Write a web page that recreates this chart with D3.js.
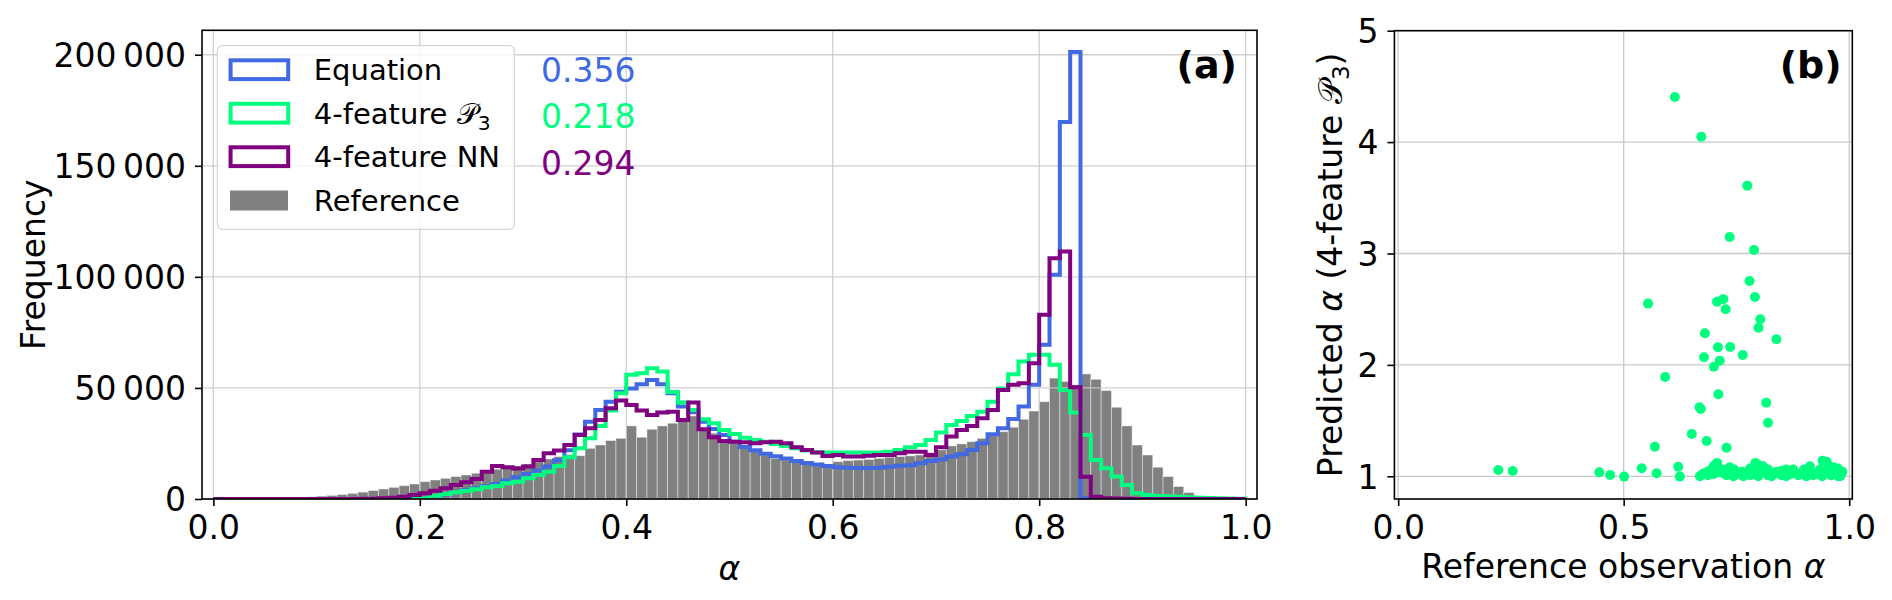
<!DOCTYPE html>
<html>
<head>
<meta charset="utf-8">
<script src="https://cdn.jsdelivr.net/npm/d3@7"></script>
<style>
  html, body { margin: 0; padding: 0; background: #fff; }
  svg text { font-family: "DejaVu Sans", sans-serif; }
</style>
</head>
<body>
<svg id="chart" width="1892" height="600"></svg>
<script>
// ---------------- DATA ----------------
// Histogram counts per bin of width 0.01 on alpha in [0, 1] (100 bins)
const referenceCounts = [
  50, 80, 120, 180, 250, 330, 450, 600, 800, 1000,
  1300, 1600, 2000, 2500, 3100, 3800, 4500, 5250, 6000, 6750,
  7800, 8550, 9300, 10100, 10800, 11600, 12300, 13400, 14300, 14900,
  15800, 16800, 18000, 19100, 20000, 19500, 22800, 24300, 26300, 27300,
  32900, 27800, 31400, 32900, 34100, 35100, 37400, 31800, 29600, 26900,
  25100, 23300, 21600, 19800, 18300, 17600, 16800, 16100, 15500, 15800,
  16800, 17300, 17500, 17800, 18300, 18800, 19100, 19400, 19800, 20900,
  22100, 23900, 24800, 25800, 27300, 29100, 30300, 32300, 35900, 39600,
  43800, 54400, 52900, 51400, 56300, 53900, 48800, 41300, 32900, 24300,
  19800, 14300, 10100, 5600, 2900, 1050, 300, 100, 50, 20
];
const equationCounts = [
  0, 0, 0, 0, 0, 0, 0, 0, 0, 0,
  0, 0, 0, 0, 0, 0, 0, 50, 100, 300,
  500, 1200, 2000, 3000, 3900, 4800, 5700, 6800, 8300, 9800,
  11300, 12800, 14600, 17500, 22000, 29000, 34800, 40100, 43800, 48300,
  49800, 51700, 53600, 51700, 47600, 41600, 39000, 34800, 31500, 28800,
  25800, 23400, 21900, 20400, 19200, 18200, 17100, 16200, 15500, 14800,
  14300, 14100, 14000, 14000, 14100, 14500, 15000, 15200, 16100, 17100,
  17800, 19100, 20100, 22100, 25100, 29100, 31800, 36000, 41600, 51400,
  69400, 100900, 169700, 201200, 300, 0, 0, 0, 0, 0,
  0, 0, 0, 0, 0, 0, 0, 0, 0, 0
];
const p3Counts = [
  0, 0, 0, 0, 0, 0, 0, 0, 0, 0,
  0, 0, 0, 0, 0, 0, 0, 0, 0, 0,
  300, 1500, 2250, 3000, 3600, 4350, 5250, 5850, 7050, 7800,
  9300, 10800, 12300, 14900, 18800, 22800, 27300, 32900, 39800, 47600,
  55900, 56600, 58900, 57400, 48200, 43400, 40100, 35900, 34100, 31100,
  29300, 27600, 26600, 25800, 24800, 23900, 22800, 21800, 21000, 20900,
  20900, 20900, 20900, 20900, 20900, 21300, 22100, 23300, 24300, 26600,
  29900, 33300, 35100, 37400, 39300, 43800, 49800, 56200, 61900, 64900,
  64900, 60400, 49100, 38900, 28800, 17600, 13800, 10100, 6300, 2550,
  1800, 1350, 1200, 1000, 800, 600, 400, 300, 200, 100
];
const nnCounts = [
  0, 0, 0, 0, 0, 0, 0, 0, 0, 0,
  0, 0, 0, 0, 100, 150, 300, 600, 1000, 1800,
  2550, 3750, 4800, 6300, 7500, 9000, 12300, 14900, 14300, 13700,
  14600, 17600, 20600, 21800, 24300, 28800, 31800, 35600, 40800, 44300,
  42300, 39800, 37800, 38900, 39300, 35600, 43400, 31400, 27800, 26100,
  25800, 25500, 25100, 25500, 25800, 25100, 23300, 22100, 20900, 19400,
  19800, 19100, 19100, 19500, 19800, 19800, 20600, 21300, 21300, 19800,
  23300, 28100, 31100, 32900, 36300, 40100, 49100, 51400, 52100, 61100,
  82900, 108400, 111400, 50300, 10000, 1000, 300, 200, 100, 50,
  0, 0, 0, 0, 0, 0, 0, 0, 0, 0
];
const seriesNames = ["Equation", "4-feature \u{1D4AB}", "4-feature NN", "Reference"];
const seriesScores = ["0.356", "0.218", "0.294"];
const xTicksA = [0, 0.2, 0.4, 0.6, 0.8, 1.0];
const yTicksA = [0, 50000, 100000, 150000, 200000];

// Panel (b): reference observation alpha vs predicted alpha (4-feature P3)
const scatterX = [
  0.6135, 0.672, 0.774, 0.735, 0.789, 0.779, 0.554, 0.707, 0.721, 0.791,
  0.726, 0.803, 0.799, 0.8386, 0.680, 0.709, 0.736, 0.764, 0.678, 0.713,
  0.700, 0.592, 0.710, 0.671, 0.816, 0.820, 0.651, 0.684, 0.569, 0.728,
  0.222, 0.254, 0.446, 0.470, 0.501, 0.540, 0.573, 0.621, 0.6245, 0.668,
  0.669, 0.680, 0.687, 0.699, 0.707, 0.717, 0.728, 0.743, 0.762, 0.765,
  0.780, 0.792, 0.798, 0.809, 0.817, 0.828, 0.839, 0.850, 0.861, 0.876,
  0.887, 0.898, 0.913, 0.920, 0.932, 0.941, 0.950, 0.957, 0.968, 0.976,
  0.983, 0.700, 0.720, 0.750, 0.770, 0.790, 0.800, 0.820, 0.830, 0.845,
  0.860, 0.870, 0.880, 0.890, 0.905, 0.910, 0.925, 0.940, 0.945, 0.960,
  0.970, 0.980, 0.985, 0.965, 0.935, 0.900, 0.860, 0.820, 0.780, 0.745,
  0.710, 0.800, 0.675, 0.690, 0.735, 0.755, 0.810, 0.850, 0.955, 0.975
];
const scatterY = [
  4.405, 4.049, 3.609, 3.148, 3.031, 2.753, 2.550, 2.567, 2.590, 2.610,
  2.499, 2.409, 2.334, 2.230, 2.284, 2.158, 2.160, 2.089, 2.068, 2.038,
  1.984, 1.891, 1.736, 1.604, 1.661, 1.481, 1.380, 1.317, 1.266, 1.257,
  1.057, 1.048, 1.036, 1.012, 0.997, 1.072, 1.027, 1.086, 0.997, 1.620,
  1.000, 1.030, 1.010, 1.090, 1.120, 1.060, 1.010, 1.000, 1.040, 1.000,
  1.010, 1.120, 1.000, 1.090, 1.030, 1.000, 1.040, 1.010, 1.030, 1.060,
  1.010, 1.040, 1.090, 1.010, 1.030, 1.140, 1.130, 1.030, 1.060, 1.000,
  1.030, 1.020, 1.030, 1.020, 1.030, 1.050, 1.020, 1.010, 1.030, 1.020,
  1.000, 1.020, 1.030, 1.020, 1.000, 1.030, 1.020, 1.000, 1.040, 1.010,
  1.020, 1.000, 1.040, 1.080, 1.060, 1.060, 1.060, 1.060, 1.070, 1.060,
  1.040, 1.100, 1.020, 1.050, 1.080, 1.030, 1.040, 1.050, 1.090, 1.070
];
const xTicksB = [0, 0.5, 1.0];
const yTicksB = [1, 2, 3, 4, 5];

// ---------------- STYLE ----------------
const COL_EQ = "#4169E1", COL_P3 = "#00FF7F", COL_NN = "#800080", COL_REF = "#808080";
const GRID = "#c9c9c9";
const TICK_FS = 33, LABEL_FS = 33, LEG_FS = 29;

const svg = d3.select("#chart");
svg.append("rect").attr("width", 1892).attr("height", 600).attr("fill", "#fff");

const fmtA = d3.formatLocale({decimal: ".", thousands: "\u2009", grouping: [3], currency: ["", ""]}).format(",d");

// ================= PANEL (a) =================
const A = {left: 202, right: 1257, top: 30.3, bottom: 499};
const xa = d3.scaleLinear().domain([-0.011, 1.011]).range([A.left, A.right]);
const ya = d3.scaleLinear().domain([0, 211000]).range([A.bottom, A.top]);
const edges = d3.range(101).map(i => i / 100);

const gA = svg.append("g");
gA.append("clipPath").attr("id", "clipA").append("rect")
  .attr("x", A.left).attr("y", A.top).attr("width", A.right - A.left).attr("height", A.bottom - A.top);

// Reference bars
gA.append("g").attr("clip-path", "url(#clipA)").selectAll("rect").data(referenceCounts).join("rect")
  .attr("x", (d, i) => xa(edges[i]))
  .attr("width", (d, i) => xa(edges[i + 1]) - xa(edges[i]))
  .attr("y", d => ya(d))
  .attr("height", d => ya(0) - ya(d))
  .attr("fill", COL_REF)
  .attr("stroke", "#ffffff").attr("stroke-opacity", 0.45).attr("stroke-width", 0.9);

// grid
const gridA = gA.append("g");
gridA.selectAll("line.v").data(xTicksA).join("line")
  .attr("x1", d => xa(d)).attr("x2", d => xa(d)).attr("y1", A.top).attr("y2", A.bottom)
  .attr("stroke", GRID).attr("stroke-width", 1.3).attr("stroke-opacity", 0.85);
gridA.selectAll("line.h").data(yTicksA).join("line")
  .attr("x1", A.left).attr("x2", A.right).attr("y1", d => ya(d)).attr("y2", d => ya(d))
  .attr("stroke", GRID).attr("stroke-width", 1.3).attr("stroke-opacity", 0.85);

// step outlines
function stepPoints(counts) {
  const pts = [[edges[0], 0]];
  counts.forEach((v, i) => { pts.push([edges[i], v]); pts.push([edges[i + 1], v]); });
  pts.push([edges[100], 0]);
  return pts;
}
const stepLine = d3.line().x(d => xa(d[0])).y(d => ya(d[1]));
const steps = [[equationCounts, COL_EQ], [p3Counts, COL_P3], [nnCounts, COL_NN]];
const gSteps = gA.append("g").attr("clip-path", "url(#clipA)");
steps.forEach(([c, col]) => {
  gSteps.append("path").attr("d", stepLine(stepPoints(c)))
    .attr("fill", "none").attr("stroke", col).attr("stroke-width", 4)
    .attr("stroke-linejoin", "miter");
});

// axes
const axXA = gA.append("g").attr("transform", `translate(0,${A.bottom})`)
  .call(d3.axisBottom(xa).tickValues(xTicksA).tickFormat(d3.format(".1f")).tickSize(7).tickPadding(8));
const axYA = gA.append("g").attr("transform", `translate(${A.left},0)`)
  .call(d3.axisLeft(ya).tickValues(yTicksA).tickFormat(fmtA).tickSize(7).tickPadding(9));
[axXA, axYA].forEach(ax => {
  ax.select(".domain").remove();
  ax.selectAll(".tick line").attr("stroke", "#000").attr("stroke-width", 1.6);
  ax.selectAll(".tick text").attr("font-size", TICK_FS).attr("fill", "#000")
    .attr("font-family", "DejaVu Sans");
});
axYA.selectAll(".tick text").attr("dy", "0.36em");
axXA.selectAll(".tick text").attr("dy", "0.76em");

// frame
gA.append("rect").attr("x", A.left).attr("y", A.top).attr("width", A.right - A.left).attr("height", A.bottom - A.top)
  .attr("fill", "none").attr("stroke", "#000").attr("stroke-width", 1.6);

// labels
gA.append("text").attr("x", (A.left + A.right) / 2).attr("y", 580).attr("text-anchor", "middle")
  .attr("font-size", LABEL_FS).attr("font-style", "italic").text("\u03B1");
gA.append("text").attr("transform", `translate(44.6,${(A.top + A.bottom) / 2}) rotate(-90)`)
  .attr("text-anchor", "middle").attr("font-size", LABEL_FS).text("Frequency");
gA.append("text").attr("x", 1237).attr("y", 78).attr("text-anchor", "end")
  .attr("font-size", 38).attr("font-weight", "bold").text("(a)");

// legend
const leg = gA.append("g");
leg.append("rect").attr("x", 217.4).attr("y", 45.7).attr("width", 296.9).attr("height", 183.6)
  .attr("rx", 5).attr("fill", "#fff").attr("fill-opacity", 0.8)
  .attr("stroke", "#d6d6d6").attr("stroke-width", 1.3);
const legRows = [
  {name: seriesNames[0], col: COL_EQ, fill: false, cy: 69.7},
  {name: seriesNames[1], col: COL_P3, fill: false, cy: 113.2, sub: "3"},
  {name: seriesNames[2], col: COL_NN, fill: false, cy: 156.7},
  {name: seriesNames[3], col: COL_REF, fill: true, cy: 200.5}
];
legRows.forEach(r => {
  if (r.fill) {
    leg.append("rect").attr("x", 230).attr("y", r.cy - 10).attr("width", 58).attr("height", 20).attr("fill", r.col);
  } else {
    leg.append("rect").attr("x", 230.6).attr("y", r.cy - 9.4).attr("width", 57.6).attr("height", 18.8)
      .attr("fill", "none").attr("stroke", r.col).attr("stroke-width", 4);
  }
  const t = leg.append("text").attr("x", 313.8).attr("y", r.cy + 10.3).attr("font-size", LEG_FS).attr("fill", "#000");
  t.append("tspan").text(r.name);
  if (r.sub) t.append("tspan").attr("font-size", LEG_FS * 0.7).attr("dy", 6).text(r.sub);
});
// scores
const scoreCols = [COL_EQ, COL_P3, COL_NN];
const scoreY = [81.7, 128.3, 175];
seriesScores.forEach((s, i) => {
  gA.append("text").attr("x", 541).attr("y", scoreY[i]).attr("font-size", 33)
    .attr("fill", scoreCols[i]).text(s);
});

// ================= PANEL (b) =================
const B = {left: 1394.4, right: 1852.3, top: 30.7, bottom: 499};
const xb = d3.scaleLinear().domain([-0.0084, 1.0069]).range([B.left, B.right]);
const yb = d3.scaleLinear().domain([0.796, 5]).range([B.bottom, B.top]);
const gB = svg.append("g");
gB.append("clipPath").attr("id", "clipB").append("rect")
  .attr("x", B.left).attr("y", B.top).attr("width", B.right - B.left).attr("height", B.bottom - B.top);

const gridB = gB.append("g");
gridB.selectAll("line.v").data(xTicksB).join("line")
  .attr("x1", d => xb(d)).attr("x2", d => xb(d)).attr("y1", B.top).attr("y2", B.bottom)
  .attr("stroke", GRID).attr("stroke-width", 1.3);
gridB.selectAll("line.h").data(yTicksB).join("line")
  .attr("x1", B.left).attr("x2", B.right).attr("y1", d => yb(d)).attr("y2", d => yb(d))
  .attr("stroke", GRID).attr("stroke-width", 1.3);

gB.append("g").attr("clip-path", "url(#clipB)").selectAll("circle").data(scatterX).join("circle")
  .attr("cx", d => xb(d)).attr("cy", (d, i) => yb(scatterY[i])).attr("r", 5)
  .attr("fill", COL_P3);

const axXB = gB.append("g").attr("transform", `translate(0,${B.bottom})`)
  .call(d3.axisBottom(xb).tickValues(xTicksB).tickFormat(d3.format(".1f")).tickSize(7).tickPadding(8));
const axYB = gB.append("g").attr("transform", `translate(${B.left},0)`)
  .call(d3.axisLeft(yb).tickValues(yTicksB).tickFormat(d3.format("d")).tickSize(7).tickPadding(9));
[axXB, axYB].forEach(ax => {
  ax.select(".domain").remove();
  ax.selectAll(".tick line").attr("stroke", "#000").attr("stroke-width", 1.6);
  ax.selectAll(".tick text").attr("font-size", TICK_FS).attr("fill", "#000")
    .attr("font-family", "DejaVu Sans");
});
axYB.selectAll(".tick text").attr("dy", "0.36em");
axXB.selectAll(".tick text").attr("dy", "0.76em");

gB.append("rect").attr("x", B.left).attr("y", B.top).attr("width", B.right - B.left).attr("height", B.bottom - B.top)
  .attr("fill", "none").attr("stroke", "#000").attr("stroke-width", 1.6);

const xlabB = gB.append("text").attr("x", (B.left + B.right) / 2).attr("y", 578.3).attr("text-anchor", "middle")
  .attr("font-size", LABEL_FS);
xlabB.append("tspan").text("Reference observation ");
xlabB.append("tspan").attr("font-style", "italic").text("\u03B1");

const ylabB = gB.append("text").attr("transform", `translate(1341.5,${(B.top + B.bottom) / 2}) rotate(-90)`)
  .attr("text-anchor", "middle").attr("font-size", LABEL_FS);
ylabB.append("tspan").text("Predicted ");
ylabB.append("tspan").attr("font-style", "italic").text("\u03B1");
ylabB.append("tspan").text(" (4-feature \u{1D4AB}");
ylabB.append("tspan").attr("font-size", LABEL_FS * 0.7).attr("dy", 7).text("3");
ylabB.append("tspan").attr("dy", -7).text(")");

gB.append("text").attr("x", 1841.7).attr("y", 78).attr("text-anchor", "end")
  .attr("font-size", 38).attr("font-weight", "bold").text("(b)");
</script>
</body>
</html>
